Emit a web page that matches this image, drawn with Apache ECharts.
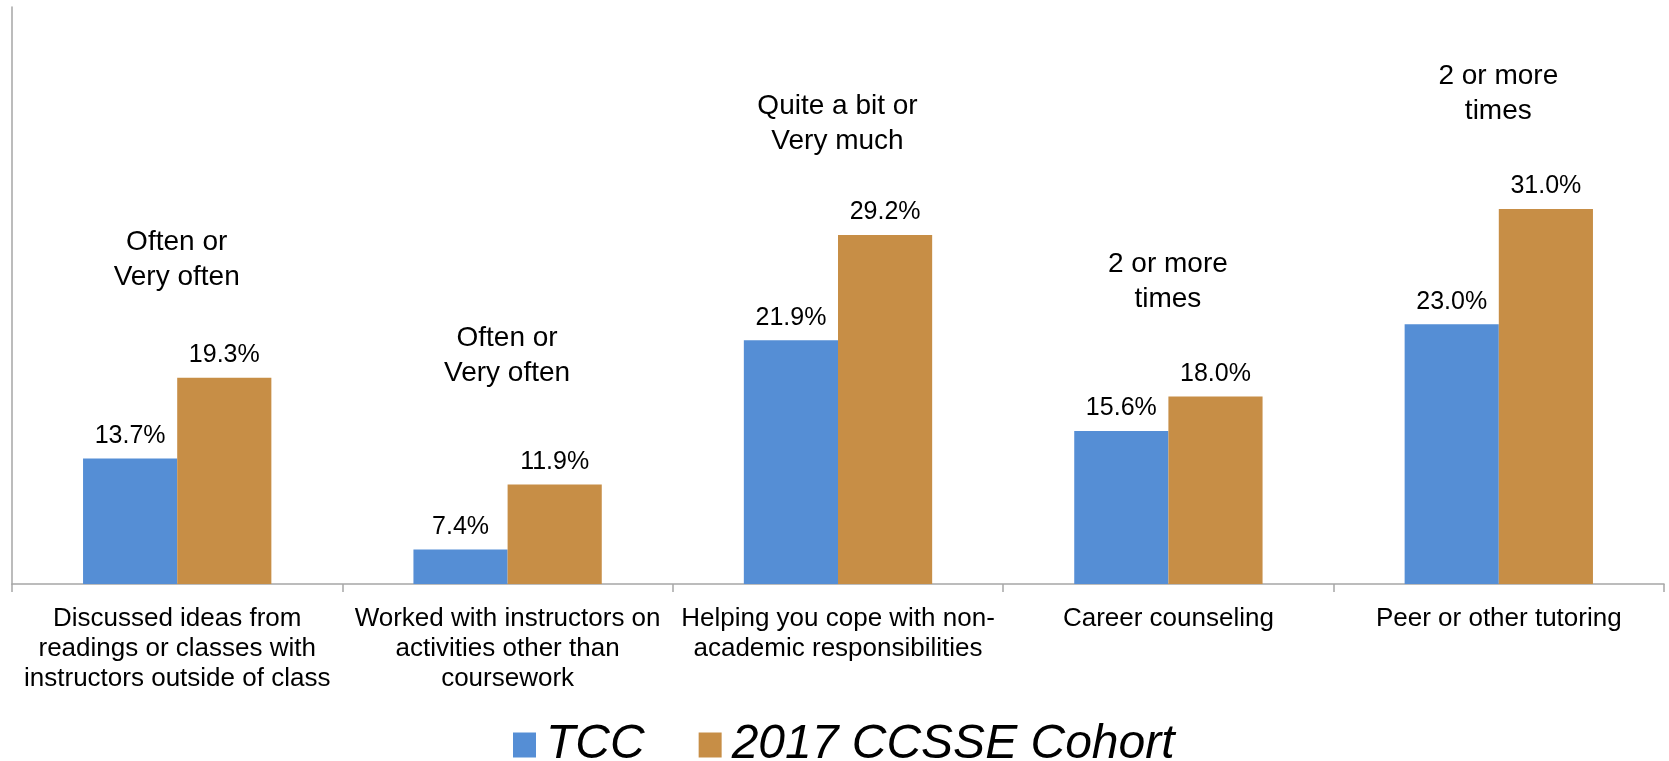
<!DOCTYPE html>
<html>
<head>
<meta charset="utf-8">
<title>TCC vs 2017 CCSSE Cohort</title>
<script src="https://cdn.jsdelivr.net/npm/echarts@6/dist/echarts.min.js"></script>
<style>
  html, body { margin: 0; padding: 0; background: #fff; }
  #chart { width: 1669px; height: 761px; }
</style>
</head>
<body>
<div id="chart"></div>
<script>
// Survey items (x-axis categories)
const categories = [
  'Discussed ideas from\nreadings or classes with\ninstructors outside of class',
  'Worked with instructors on\nactivities other than\ncoursework',
  'Helping you cope with non-\nacademic responsibilities',
  'Career counseling',
  'Peer or other tutoring'
];

// Percent of students answering in the noted range
const tccValues = [13.7, 7.4, 21.9, 15.6, 23.0];
const cohortValues = [19.3, 11.9, 29.2, 18.0, 31.0];

// Response range note shown over each item
const responseNotes = [
  'Often or\nVery often',
  'Often or\nVery often',
  'Quite a bit or\nVery much',
  '2 or more\ntimes',
  '2 or more\ntimes'
];

const seriesNames = ['TCC', '2017 CCSSE Cohort'];

// Layout: where each note sits, in axis units
const noteLevels = [27.45, 20.8, 36.85, 25.9, 38.95];

const FONT = '"Liberation Sans", Arial, Helvetica, sans-serif';
const AXIS_GRAY = '#a6a6a6';

const valueLabel = {
  show: true,
  position: 'top',
  distance: 10,
  color: '#000',
  fontFamily: FONT,
  fontSize: 25,
  formatter: p => p.value.toFixed(1) + '%'
};

const chart = echarts.init(document.getElementById('chart'), null, { renderer: 'canvas' });

chart.setOption({
  animation: false,
  backgroundColor: '#fff',
  textStyle: { fontFamily: FONT },
  grid: { left: 12, right: 5, top: 7, bottom: 177, containLabel: false },
  legend: {
    data: seriesNames,
    left: 508,
    top: 716,
    icon: 'rect',
    itemWidth: 23,
    itemHeight: 25,
    itemGap: 54,
    textStyle: {
      fontFamily: FONT,
      fontSize: 48,
      fontStyle: 'italic',
      color: '#000',
      padding: [0, 0, 0, 5]
    }
  },
  xAxis: {
    type: 'category',
    data: categories,
    axisLine: { show: true, lineStyle: { color: AXIS_GRAY, width: 1.5 } },
    axisTick: { show: true, length: 8, lineStyle: { color: AXIS_GRAY, width: 1.5 } },
    axisLabel: {
      interval: 0,
      margin: 20,
      color: '#000',
      fontFamily: FONT,
      fontSize: 26,
      lineHeight: 30,
      align: 'center'
    }
  },
  yAxis: {
    type: 'value',
    min: 5,
    max: 45,
    axisLine: { show: true, lineStyle: { color: AXIS_GRAY, width: 1.5 } },
    axisTick: { show: false },
    axisLabel: { show: false },
    splitLine: { show: false }
  },
  series: [
    {
      name: seriesNames[0],
      type: 'bar',
      data: tccValues,
      barWidth: '28.5%',
      barGap: '0%',
      itemStyle: { color: '#558ED5' },
      label: valueLabel
    },
    {
      name: seriesNames[1],
      type: 'bar',
      data: cohortValues,
      barWidth: '28.5%',
      barGap: '0%',
      itemStyle: { color: '#C78E46' },
      label: valueLabel
    },
    {
      // Response range notes, drawn as labels on hidden points
      name: 'notes',
      type: 'scatter',
      silent: true,
      symbolSize: 1,
      itemStyle: { color: '#fff', opacity: 1 },
      data: noteLevels.map((v, i) => ({ value: [i, v], note: responseNotes[i] })),
      label: {
        show: true,
        position: [0, 0],
        color: '#000',
        textBorderWidth: 0,
        fontFamily: FONT,
        fontSize: 28,
        lineHeight: 35,
        align: 'center',
        verticalAlign: 'middle',
        formatter: p => p.data.note
      }
    }
  ]
});
</script>
</body>
</html>
